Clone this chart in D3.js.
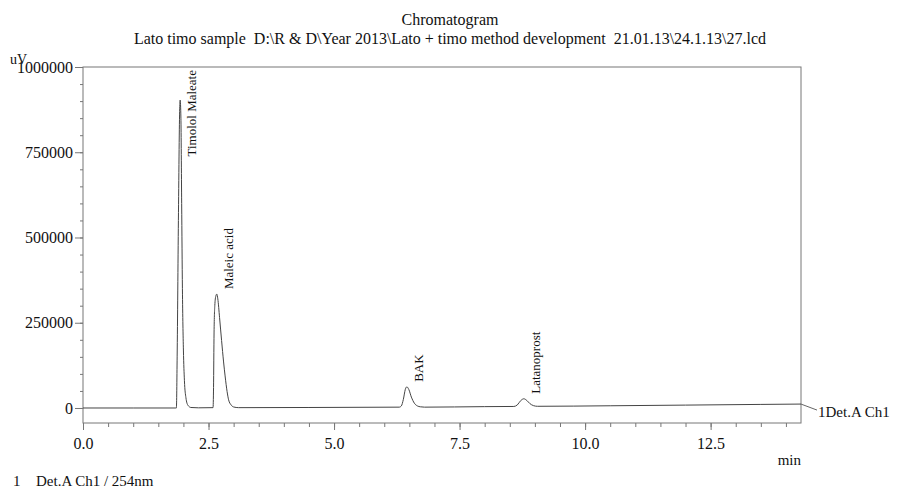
<!DOCTYPE html>
<html>
<head>
<meta charset="utf-8">
<script src="https://cdn.jsdelivr.net/npm/d3@7"></script>
<style>
  body { margin: 0; background: #fff; }
  svg { display: block; font-family: "Liberation Serif", "Times New Roman", serif; }
  .tick text { font-size: 16px; fill: #111; font-family: "Liberation Serif", "Times New Roman", serif; }
  .tick line { stroke: #777; }
  text { fill: #111; }
</style>
</head>
<body>
<svg width="897" height="488"></svg>
<script>
// retention time (min) and detector signal (uV)
const timeMin = [0, 1.0, 1.85, 1.86, 1.875, 1.90, 1.925, 1.935, 1.95, 1.965, 1.98, 2.00, 2.02, 2.05, 2.09, 2.15, 2.3,
  2.59, 2.60, 2.61, 2.625, 2.645, 2.665, 2.685, 2.72, 2.76, 2.80, 2.83, 2.87, 2.90, 2.95, 3.0, 3.1,
  4.5, 6.30, 6.34, 6.38, 6.42, 6.45, 6.49, 6.54, 6.60, 6.66, 6.72, 6.80,
  8.0, 8.58, 8.65, 8.72, 8.78, 8.84, 8.90, 8.97, 9.05, 10.5, 12.0, 13.5, 14.3];
const signalUV = [0, 0, 0, 0, 150000, 550000, 870000, 903000, 850000, 600000, 350000, 170000, 80000, 30000, 8000, 1500, 500,
  1000, 60000, 220000, 300000, 328000, 334000, 320000, 265000, 198000, 135000, 94000, 48000, 24000, 9000, 3000, 1000,
  1500, 2500, 6000, 25000, 55000, 62000, 54000, 32000, 14000, 6000, 3500, 2500,
  4000, 4500, 9000, 22000, 27000, 22000, 13000, 7000, 5000, 6500, 8500, 10500, 11500];

const peakNames = ['Timolol Maleate', 'Maleic acid', 'BAK', 'Latanoprost'];
const peakTimes = [1.935, 2.665, 6.45, 8.78];
const peakHeights = [903000, 334000, 62000, 27000];

const yMajor = [0, 250000, 500000, 750000, 1000000];
const xMajor = [0, 2.5, 5, 7.5, 10, 12.5];

const titleLines = ['Chromatogram',
  'Lato timo sample  D:\\R & D\\Year 2013\\Lato + timo method development  21.01.13\\24.1.13\\27.lcd'];

const svg = d3.select('svg');
const plotLeft = 83, plotRight = 801, plotTop = 67, plotBottom = 423;

const x = d3.scaleLinear().domain([0, 14.3]).range([plotLeft, plotRight]);
const y = d3.scaleLinear().domain([-44000, 1000000]).range([plotBottom, plotTop]);

// titles
svg.selectAll('.title')
  .data(titleLines)
  .enter()
  .append('text')
  .attr('class', 'title')
  .attr('x', 450)
  .attr('y', (d, i) => 25 + i * 19)
  .attr('text-anchor', 'middle')
  .style('font-size', '16px')
  .style('white-space', 'pre')
  .text(d => d);

// frame
svg.append('rect')
  .attr('x', plotLeft)
  .attr('y', plotTop)
  .attr('width', plotRight - plotLeft)
  .attr('height', plotBottom - plotTop)
  .attr('fill', 'none')
  .attr('stroke', '#777')
  .attr('stroke-width', 1);

const plain = g => g.attr('font-family', null).attr('font-size', null).select('.domain').remove();

// y axis, minor then major
svg.append('g')
  .attr('transform', `translate(${plotLeft},0)`)
  .call(d3.axisLeft(y).tickValues(d3.range(0, 1000001, 50000)).tickSize(3).tickFormat(''))
  .call(plain);

svg.append('g')
  .attr('transform', `translate(${plotLeft},0)`)
  .call(d3.axisLeft(y).tickValues(yMajor).tickSize(8).tickPadding(2).tickFormat(d3.format('d')))
  .call(plain);

// x axis, minor then major
svg.append('g')
  .attr('transform', `translate(0,${plotBottom})`)
  .call(d3.axisBottom(x).tickValues(d3.range(0, 14.3, 0.5)).tickSize(4).tickFormat(''))
  .call(plain);

svg.append('g')
  .attr('transform', `translate(0,${plotBottom})`)
  .call(d3.axisBottom(x).tickValues(xMajor).tickSize(7).tickPadding(8).tickFormat(d3.format('.1f')))
  .call(plain);

svg.append('text')
  .attr('x', 10)
  .attr('y', 64)
  .style('font-size', '14px')
  .text('uV');

svg.append('text')
  .attr('x', plotRight)
  .attr('y', 465)
  .attr('text-anchor', 'end')
  .style('font-size', '15px')
  .text('min');

// trace
const trace = timeMin.map((t, i) => ({t: t, v: signalUV[i]}));

svg.append('path')
  .datum(trace)
  .attr('fill', 'none')
  .attr('stroke', '#444')
  .attr('stroke-width', 1)
  .attr('d', d3.line().x(d => x(d.t)).y(d => y(d.v)).curve(d3.curveMonotoneX));

// channel tag at the end of the trace
const last = trace[trace.length - 1];
svg.append('line')
  .attr('x1', x(last.t))
  .attr('y1', y(last.v))
  .attr('x2', x(last.t) + 16)
  .attr('y2', y(last.v) + 6)
  .attr('stroke', '#666');

svg.append('text')
  .attr('x', x(last.t) + 17)
  .attr('y', y(last.v) + 13)
  .style('font-size', '15px')
  .text('1Det.A Ch1');

// peak labels, rotated, pushed down if they would leave the frame
const labels = svg.selectAll('.peak')
  .data(peakNames)
  .enter()
  .append('text')
  .attr('class', 'peak')
  .style('font-size', '13px')
  .text(d => d);

labels.each(function(d, i) {
  const len = this.getComputedTextLength();
  const px = x(peakTimes[i]) + 16;
  const py = Math.max(y(peakHeights[i]) - 5, plotTop + len + 3);
  d3.select(this).attr('transform', `translate(${px},${py}) rotate(-90)`);
});

// footer
svg.append('text')
  .attr('x', 13)
  .attr('y', 486)
  .style('font-size', '15px')
  .text('1');

svg.append('text')
  .attr('x', 36)
  .attr('y', 486)
  .style('font-size', '15px')
  .text('Det.A Ch1 / 254nm');
</script>
</body>
</html>
